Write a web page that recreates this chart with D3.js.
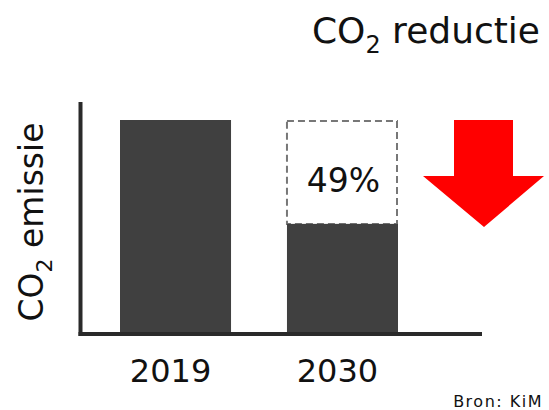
<!DOCTYPE html>
<html>
<head>
<meta charset="utf-8">
<script src="https://cdn.jsdelivr.net/npm/d3@7"></script>
<style>
  body { margin: 0; background: #fff; }
  svg text { font-family: "DejaVu Sans", Verdana, sans-serif; fill: #111; }
</style>
</head>
<body>
<div id="chart"></div>
<script>
var consts = {
    width: 549,
    height: 410
};

// data
var years = ['2019', '2030'];
var emissions = [100, 51];
var reductionLabel = '49%';
var source = 'Bron: KiM';

var svg = d3.select('#chart').append('svg')
    .attr('width', consts.width)
    .attr('height', consts.height);

var x = d3.scaleBand()
    .domain(years)
    .range([120, 398])
    .paddingInner(0.335)
    .paddingOuter(0);

var y = d3.scaleLinear()
    .domain([0, 100])
    .range([332, 120]);

// title
var title = svg.append('text')
    .attr('x', 540)
    .attr('y', 43)
    .attr('text-anchor', 'end')
    .style('font-size', '36px');
title.append('tspan').text('CO');
title.append('tspan').text('2').attr('dy', 10).style('font-size', '24px');
title.append('tspan').text(' reductie').attr('dy', -10);

// y label
var ylab = svg.append('text')
    .attr('transform', 'translate(43,222) rotate(-90)')
    .attr('text-anchor', 'middle')
    .style('font-size', '33px');
ylab.append('tspan').text('CO');
ylab.append('tspan').text('2').attr('dy', 9).style('font-size', '22px');
ylab.append('tspan').text(' emissie').attr('dy', -9);

// dashed "removed" part of 2030 bar
svg.append('rect')
    .attr('x', x('2030'))
    .attr('y', y(emissions[0]) + 1)
    .attr('width', x.bandwidth() - 1)
    .attr('height', y(emissions[1]) - y(emissions[0]) - 1)
    .attr('fill', 'none')
    .attr('stroke', '#777')
    .attr('stroke-width', 2)
    .attr('stroke-dasharray', '7,4');

// bars
svg.selectAll('.bar')
    .data(years)
    .enter()
    .append('rect')
    .attr('class', 'bar')
    .attr('x', function (d) { return x(d); })
    .attr('y', function (d, i) { return y(emissions[i]); })
    .attr('width', x.bandwidth())
    .attr('height', function (d, i) { return y(0) - y(emissions[i]); })
    .attr('fill', '#404040');

svg.append('text')
    .attr('x', x('2030') + x.bandwidth() / 2 + 1)
    .attr('y', 192)
    .attr('text-anchor', 'middle')
    .style('font-size', '33px')
    .text(reductionLabel);

// axes lines
svg.append('line')
    .attr('x1', 80.5).attr('y1', 102)
    .attr('x2', 80.5).attr('y2', 336)
    .attr('stroke', '#2a2a2a').attr('stroke-width', 4);
svg.append('line')
    .attr('x1', 78.5).attr('y1', 334)
    .attr('x2', 482).attr('y2', 334)
    .attr('stroke', '#2a2a2a').attr('stroke-width', 4);

// year labels
svg.selectAll('.year')
    .data(years)
    .enter()
    .append('text')
    .attr('class', 'year')
    .attr('x', function (d) { return x(d) + x.bandwidth() / 2 - 5; })
    .attr('y', 382)
    .attr('text-anchor', 'middle')
    .style('font-size', '32px')
    .text(function (d) { return d; });

// red arrow
svg.append('polygon')
    .attr('points', [[454, 120], [513, 120], [513, 176], [544, 176], [484, 227], [423, 176], [454, 176]]
        .map(function (p) { return p.join(','); }).join(' '))
    .attr('fill', '#ff0000');

svg.append('text')
    .attr('x', 543)
    .attr('y', 407)
    .attr('text-anchor', 'end')
    .style('font-size', '16px')
    .style('letter-spacing', '1.5px')
    .text(source);
</script>
</body>
</html>
